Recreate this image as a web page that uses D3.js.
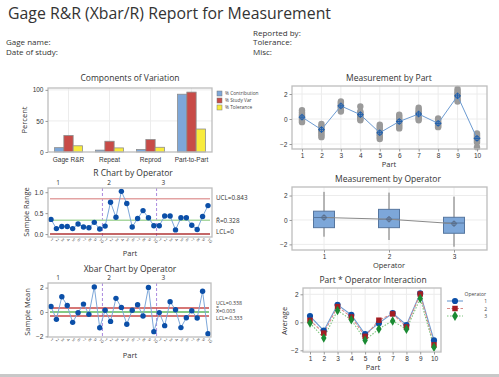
<!DOCTYPE html>
<html>
<head>
<meta charset="utf-8">
<script src="https://cdn.jsdelivr.net/npm/d3@7"></script>
<style>
  body { margin: 0; background: #fff; }
  svg { display: block; font-family: "Open Sans", "Noto Sans", sans-serif; }
  .tick-lbl { font-size: 6.5px; fill: #333; }
  .ttl { font-size: 8.5px; fill: #333; }
  .axl { font-size: 7.5px; fill: #333; }
</style>
</head>
<body>
<div id="chart"></div>
<script>
// data
var compGroups = ["Gage R&R", "Repeat", "Reprod", "Part-to-Part"];
var compSeries = ["% Contribution", "% Study Var", "% Tolerance"];
var pctContribution = [7, 3, 4, 93];
var pctStudyVar = [26.5, 17.3, 20, 96.4];
var pctTolerance = [10, 6.6, 7.6, 37];

var parts = [1, 2, 3, 4, 5, 6, 7, 8, 9, 10];
var operators = [1, 2, 3];

// measurements by part (gray dots)
var partMeasurements = [
  [0.7, 0.55, 0.4, 0.3, 0.15, 0.05, -0.05, -0.15, -0.25],
  [-0.4, -0.55, -0.7, -0.8, -0.9, -1.0, -1.15, -1.3, -1.45],
  [1.4, 1.3, 1.2, 1.1, 1.0, 0.95, 0.85, 0.7, 0.6],
  [1.0, 0.6, 0.5, 0.4, 0.3, 0.2, 0.1, 0.0, -0.1],
  [-0.45, -0.6, -0.75, -0.9, -1.05, -1.2, -1.3, -1.45, -1.6],
  [0.35, 0.2, 0.05, -0.1, -0.2, -0.3, -0.45, -0.6, -0.75],
  [0.9, 0.75, 0.6, 0.5, 0.4, 0.3, 0.15, 0.05, -0.1],
  [0.05, -0.05, -0.15, -0.25, -0.35, -0.4, -0.5, -0.6, -0.65],
  [2.4, 2.25, 2.1, 2.0, 1.9, 1.8, 1.65, 1.5, 1.4],
  [-1.15, -1.25, -1.35, -1.45, -1.55, -1.65, -1.75, -1.85, -2.25]
];
var partMeans = [0.15, -0.85, 1.05, 0.35, -1.1, -0.2, 0.4, -0.35, 1.85, -1.55];

// sample ranges, operator 1..3, parts 1..10
var rangeOp1 = [0.35, 0.13, 0.18, 0.18, 0.13, 0.24, 0.17, 0.15, 0.28, 0.12];
var rangeOp2 = [0.19, 0.76, 0.4, 1.02, 0.73, 0.17, 0.37, 0.56, 0.39, 0.2];
var rangeOp3 = [0.2, 0.43, 0.43, 0.1, 0.39, 0.39, 0.21, 0.11, 0.42, 0.68];
var rUCL = 0.843, rBar = 0.328, rLCL = 0;

// sample means, operator 1..3, parts 1..10
var meanOp1 = [0.45, -0.6, 1.25, 0.53, -0.85, -0.06, 0.65, -0.19, 2.06, -1.29];
var meanOp2 = [0.14, -0.77, 1.12, 0.38, -1.0, 0.15, 0.6, -0.33, 2.02, -1.61];
var meanOp3 = [-0.05, -1.12, 0.85, 0.18, -1.28, -0.47, 0.1, -0.49, 1.7, -1.78];
var xUCL = 0.338, xBarBar = 0.003, xLCL = -0.333;

// measurement by operator box stats
var boxQ1 = [-0.63, -0.63, -1.09];
var boxMedian = [0.2, 0.06, -0.25];
var boxQ3 = [0.72, 0.87, 0.22];
var boxLow = [-1.37, -1.64, -2.19];
var boxHigh = [2.3, 2.24, 1.91];
var boxMean = [0.2, 0.06, -0.3];

var sampleLabels = [];
for (var k = 0; k < 3; k++) parts.forEach(function(p) { sampleLabels.push(p); });

var W = 499, H = 377;
var svg = d3.select("#chart").append("svg").attr("width", W).attr("height", H);

var frameColor = "#bdbdbd", gridColor = "#ececec";
var dotBlue = "#0b4fa8", lineBlue = "#7da7d9";

// header
svg.append("text").attr("x", 8).attr("y", 19).attr("font-size", 16.5).attr("fill", "#333")
  .attr("textLength", 323).attr("lengthAdjust", "spacingAndGlyphs")
  .text("Gage R&R (Xbar/R) Report for Measurement");
var hdr = [["Gage name:", 6, 45], ["Date of study:", 6, 55], ["Reported by:", 253, 35.5], ["Tolerance:", 253, 45], ["Misc:", 253, 55]];
hdr.forEach(function(h) {
  svg.append("text").attr("x", h[1]).attr("y", h[2]).attr("font-size", 8).attr("fill", "#333").text(h[0]);
});

// helpers
function frame(x0, y0, x1, y1) {
  svg.append("rect").attr("x", x0).attr("y", y0).attr("width", x1 - x0).attr("height", y1 - y0)
    .attr("fill", "none").attr("stroke", frameColor).attr("stroke-width", 1.3);
}
function title(txt, cx, y) {
  svg.append("text").attr("class", "ttl").attr("x", cx).attr("y", y).attr("text-anchor", "middle").text(txt);
}
function yLabel(txt, x, cy) {
  svg.append("text").attr("class", "axl").attr("text-anchor", "middle")
    .attr("transform", "translate(" + x + "," + cy + ") rotate(-90)").text(txt);
}
function xLabel(txt, cx, y) {
  svg.append("text").attr("class", "axl").attr("x", cx).attr("y", y).attr("text-anchor", "middle").text(txt);
}
function yAxis(scale, x, ticks, fmt) {
  var g = svg.append("g").attr("transform", "translate(" + x + ",0)")
    .call(d3.axisLeft(scale).tickValues(ticks).tickSize(2.5).tickPadding(2).tickFormat(fmt));
  g.select(".domain").remove();
  g.selectAll("line").attr("stroke", "#999");
  g.selectAll("text").attr("class", "tick-lbl").attr("font-size", null).attr("font-family", null);
  return g;
}
function xAxis(scale, y, ticks, fmt) {
  var g = svg.append("g").attr("transform", "translate(0," + y + ")")
    .call(d3.axisBottom(scale).tickValues(ticks).tickSize(2.5).tickPadding(2).tickFormat(fmt));
  g.select(".domain").remove();
  g.selectAll("line").attr("stroke", "#999");
  g.selectAll("text").attr("class", "tick-lbl").attr("font-size", null).attr("font-family", null);
  return g;
}
function hGrid(scale, x0, x1, ticks) {
  svg.append("g").selectAll("line").data(ticks).enter().append("line")
    .attr("x1", x0).attr("x2", x1).attr("y1", function(d) { return scale(d); }).attr("y2", function(d) { return scale(d); })
    .attr("stroke", gridColor).attr("stroke-width", 1);
}
function vGrid(xs, y0, y1) {
  svg.append("g").selectAll("line").data(xs).enter().append("line")
    .attr("x1", function(d) { return d; }).attr("x2", function(d) { return d; }).attr("y1", y0).attr("y2", y1)
    .attr("stroke", gridColor).attr("stroke-width", 1);
}
function crossMarker(g, x, y, r, color) {
  g.append("circle").attr("cx", x).attr("cy", y).attr("r", r).attr("fill", "none").attr("stroke", color).attr("stroke-width", 1);
  g.append("line").attr("x1", x - r - 1).attr("x2", x + r + 1).attr("y1", y).attr("y2", y).attr("stroke", color).attr("stroke-width", 1);
  g.append("line").attr("x1", x).attr("x2", x).attr("y1", y - r - 1).attr("y2", y + r + 1).attr("stroke", color).attr("stroke-width", 1);
}

// ---------- Components of Variation ----------
var compX = d3.scaleBand().domain(compGroups).range([48, 212]).paddingInner(0.32).paddingOuter(0.16);
var compSub = d3.scaleBand().domain(compSeries).range([0, compX.bandwidth()]);
var compY = d3.scaleLinear().domain([0, 103]).range([152, 88]);
var compColors = d3.scaleOrdinal().domain(compSeries).range(["#7da7d9", "#c84b47", "#f8eb3c"]);
var compValues = [pctContribution, pctStudyVar, pctTolerance];

hGrid(compY, 48, 212, [50, 100]);
vGrid(compGroups.map(function(g) { return compX(g) + compX.bandwidth() / 2; }), 88, 152);
compSeries.forEach(function(s, si) {
  svg.append("g").selectAll("rect").data(compValues[si]).enter().append("rect")
    .attr("x", function(d, i) { return compX(compGroups[i]) + compSub(s); })
    .attr("y", function(d) { return compY(d); })
    .attr("width", compSub.bandwidth())
    .attr("height", function(d) { return compY(0) - compY(d); })
    .attr("fill", compColors(s)).attr("stroke", "#8c8c8c").attr("stroke-width", 0.8);
});
frame(48, 88, 212, 152);
yAxis(compY, 48, [0, 50, 100], d3.format("d"));
var ca = xAxis(compX, 152, compGroups, null);
ca.selectAll("line").remove();
ca.selectAll("text").attr("dy", "0.9em");
title("Components of Variation", 130, 81);
yLabel("Percent", 27, 120);
// legend
compSeries.forEach(function(s, i) {
  var ly = 91 + i * 7;
  svg.append("rect").attr("x", 217).attr("y", ly).attr("width", 5).attr("height", 5)
    .attr("fill", compColors(s)).attr("stroke", "#777").attr("stroke-width", 0.5);
  svg.append("text").attr("x", 225).attr("y", ly + 4.3).attr("font-size", 4.8).attr("fill", "#444").text(s);
});

// ---------- Measurement by Part ----------
var partX = d3.scaleLinear().domain([1, 10]).range([302, 477]);
var partY = d3.scaleLinear().domain([-2.4, 2.64]).range([149, 86]);
hGrid(partY, 292, 487, [-2, 0, 2]);
vGrid(parts.map(partX), 86, 149);
var dots = [];
partMeasurements.forEach(function(arr, i) { arr.forEach(function(v) { dots.push([parts[i], v]); }); });
svg.append("g").selectAll("circle").data(dots).enter().append("circle")
  .attr("cx", function(d) { return partX(d[0]); }).attr("cy", function(d) { return partY(d[1]); })
  .attr("r", 3.2).attr("fill", "#9a9a9a");
svg.append("path").datum(partMeans)
  .attr("d", d3.line().x(function(d, i) { return partX(parts[i]); }).y(function(d) { return partY(d); }))
  .attr("fill", "none").attr("stroke", "#6c9bd2").attr("stroke-width", 1);
var pm = svg.append("g");
partMeans.forEach(function(v, i) { crossMarker(pm, partX(parts[i]), partY(v), 2.3, "#1f5fad"); });
frame(292, 86, 487, 149);
yAxis(partY, 292, [-2, 0, 2], d3.format("d"));
xAxis(partX, 149, parts, d3.format("d"));
title("Measurement by Part", 389, 81);
xLabel("Part", 389, 167);

// ---------- R Chart by Operator ----------
var seqX = d3.scaleLinear().domain([0, 29]).range([51, 208]);
var rY = d3.scaleLinear().domain([-0.07, 1.1]).range([237, 188]);
var ranges = rangeOp1.concat(rangeOp2, rangeOp3);

function controlChart(yScale, values, limits, top, bottom, right) {
  // operator separators
  [9.5, 19.5].forEach(function(s) {
    svg.append("line").attr("x1", seqX(s)).attr("x2", seqX(s)).attr("y1", top).attr("y2", bottom)
      .attr("stroke", "#a07cdb").attr("stroke-width", 0.9).attr("stroke-dasharray", "3,2");
  });
  limits.forEach(function(l) {
    svg.append("line").attr("x1", 50).attr("x2", right - 2).attr("y1", yScale(l.v)).attr("y2", yScale(l.v))
      .attr("stroke", l.c).attr("stroke-width", 1.5);
  });
  svg.append("path").datum(values)
    .attr("d", d3.line().x(function(d, i) { return seqX(i); }).y(function(d) { return yScale(d); }))
    .attr("fill", "none").attr("stroke", lineBlue).attr("stroke-width", 1);
  svg.append("g").selectAll("circle").data(values).enter().append("circle")
    .attr("cx", function(d, i) { return seqX(i); }).attr("cy", function(d) { return yScale(d); })
    .attr("r", 2.7).attr("fill", dotBlue);
  frame(48, top, right, bottom);
  // operator labels
  [[operators[0], seqX(0) + 7], [operators[1], seqX(10) + 4], [operators[2], seqX(20) + 4]].forEach(function(o) {
    svg.append("text").attr("x", o[1]).attr("y", top - 3).attr("font-size", 6.5).attr("fill", "#333")
      .attr("text-anchor", "middle").text(o[0]);
  });
  // rotated sample tick labels
  var g = svg.append("g");
  sampleLabels.forEach(function(p, i) {
    g.append("text").attr("font-size", 4.3).attr("fill", "#444")
      .attr("transform", "translate(" + (seqX(i) - 1) + "," + (bottom + 3) + ") rotate(45)")
      .text(p);
  });
}

controlChart(rY, ranges, [{v: rUCL, c: "#e3a3a3"}, {v: rBar, c: "#a9d7a0"}, {v: rLCL, c: "#b03434"}], 188, 237, 212);
yAxis(rY, 48, [0, 0.5, 1], d3.format(".1f"));
title("R Chart by Operator", 133, 176);
yLabel("Sample Range", 29, 212);
xLabel("Part", 130, 256);
var rl = [["UCL=0.843", rUCL, 1.5], ["R\u0304=0.328", rBar, 2.5], ["LCL=0", rLCL, 0]];
rl.forEach(function(t) {
  svg.append("text").attr("x", 216).attr("y", rY(t[1]) + t[2]).attr("font-size", 6.3).attr("fill", "#333").text(t[0]);
});

// ---------- Xbar Chart by Operator ----------
var xY = d3.scaleLinear().domain([-2.05, 2.38]).range([337, 283]);
var means = meanOp1.concat(meanOp2, meanOp3);
controlChart(xY, means, [{v: xUCL, c: "#c94a48"}, {v: xBarBar, c: "#5cb85c"}, {v: xLCL, c: "#c94a48"}], 283, 337, 211);
yAxis(xY, 48, [-2, 0, 2], d3.format("d"));
title("Xbar Chart by Operator", 130, 272);
yLabel("Sample Mean", 30, 312);
xLabel("Part", 130, 358);
// these three sit tight together, as in the report
var xl = [["UCL=0.338", xUCL, -2.4], ["X\u033F=0.003", xBarBar, 1.4], ["LCL=-0.333", xLCL, 4]];
xl.forEach(function(t) {
  svg.append("text").attr("x", 216).attr("y", xY(t[1]) + t[2]).attr("font-size", 5.2).attr("fill", "#333").text(t[0]);
});

// ---------- Measurement by Operator ----------
var opX = d3.scaleLinear().domain([1, 3]).range([324, 454]);
var opY = d3.scaleLinear().domain([-2.46, 2.7]).range([250, 187]);
hGrid(opY, 292, 487, [-2, 0, 2]);
vGrid(operators.map(opX), 187, 250);
var bw = 21;
operators.forEach(function(o, i) {
  var cx = opX(o);
  svg.append("line").attr("x1", cx).attr("x2", cx).attr("y1", opY(boxHigh[i])).attr("y2", opY(boxLow[i]))
    .attr("stroke", "#666").attr("stroke-width", 0.9);
  svg.append("rect").attr("x", cx - bw / 2).attr("y", opY(boxQ3[i])).attr("width", bw)
    .attr("height", opY(boxQ1[i]) - opY(boxQ3[i]))
    .attr("fill", "#7da7d9").attr("stroke", "#56769f").attr("stroke-width", 1);
  svg.append("line").attr("x1", cx - bw / 2).attr("x2", cx + bw / 2).attr("y1", opY(boxMedian[i])).attr("y2", opY(boxMedian[i]))
    .attr("stroke", "#56769f").attr("stroke-width", 1);
});
svg.append("path").datum(boxMean)
  .attr("d", d3.line().x(function(d, i) { return opX(operators[i]); }).y(function(d) { return opY(d); }))
  .attr("fill", "none").attr("stroke", "#8a8a8a").attr("stroke-width", 1);
var om = svg.append("g");
boxMean.forEach(function(v, i) { crossMarker(om, opX(operators[i]), opY(v), 2.2, "#5a6f8c"); });
frame(292, 187, 487, 250);
yAxis(opY, 292, [-2, 0, 2], d3.format("d"));
xAxis(opX, 250, operators, d3.format("d"));
title("Measurement by Operator", 388, 182);
xLabel("Operator", 389, 268);

// ---------- Part * Operator Interaction ----------
var inX = d3.scaleLinear().domain([1, 10]).range([310, 434]);
var inY = d3.scaleLinear().domain([-2.12, 2.45]).range([352, 288]);
hGrid(inY, 303, 441, [-2, 0, 2]);
vGrid(parts.map(inX), 288, 352);
var opSeries = [
  {name: operators[0], vals: meanOp1, line: "#6c9bd2", fill: "#0b4fa8", dash: null, shape: d3.symbolCircle},
  {name: operators[1], vals: meanOp2, line: "#d98a88", fill: "#a31d22", dash: "3,1.5", shape: d3.symbolSquare},
  {name: operators[2], vals: meanOp3, line: "#7cc47c", fill: "#1a8a32", dash: "1.5,1.5", shape: d3.symbolDiamond}
];
opSeries.forEach(function(s) {
  svg.append("path").datum(s.vals)
    .attr("d", d3.line().x(function(d, i) { return inX(parts[i]); }).y(function(d) { return inY(d); }))
    .attr("fill", "none").attr("stroke", s.line).attr("stroke-width", 1.1).attr("stroke-dasharray", s.dash);
});
opSeries.forEach(function(s) {
  svg.append("g").selectAll("path").data(s.vals).enter().append("path")
    .attr("d", d3.symbol().type(s.shape).size(s.shape === d3.symbolDiamond ? 26 : 30))
    .attr("transform", function(d, i) { return "translate(" + inX(parts[i]) + "," + inY(d) + ")"; })
    .attr("fill", s.fill);
});
frame(303, 288, 441, 352);
yAxis(inY, 303, [-2, 0, 2], d3.format("d"));
xAxis(inX, 352, parts, d3.format("d"));
title("Part * Operator Interaction", 373, 283);
yLabel("Average", 287, 321);
xLabel("Part", 373, 370);
// legend
svg.append("text").attr("x", 486).attr("y", 296).attr("font-size", 5).attr("fill", "#444")
  .attr("text-anchor", "end").text("Operator");
opSeries.forEach(function(s, i) {
  var ly = 301 + i * 7.5;
  svg.append("line").attr("x1", 447).attr("x2", 463).attr("y1", ly).attr("y2", ly)
    .attr("stroke", s.line).attr("stroke-width", 1.1).attr("stroke-dasharray", s.dash);
  svg.append("path").attr("d", d3.symbol().type(s.shape).size(30)).attr("transform", "translate(455," + ly + ")").attr("fill", s.fill);
  svg.append("text").attr("x", 487).attr("y", ly + 2).attr("font-size", 5).attr("fill", "#444")
    .attr("text-anchor", "end").text(s.name);
});

// bottom rule
svg.append("rect").attr("x", 0).attr("y", 374).attr("width", W).attr("height", 3).attr("fill", "#c8c8c8");
</script>
</body>
</html>
